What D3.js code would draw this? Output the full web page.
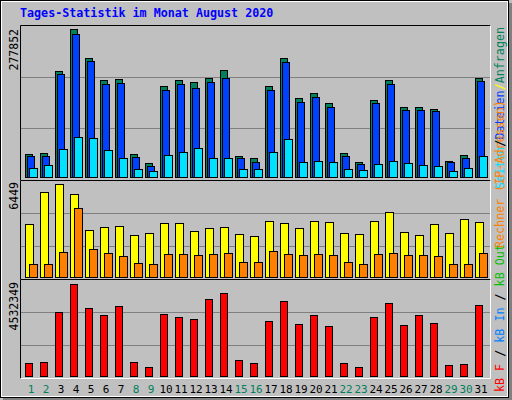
<!DOCTYPE html>
<html><head><meta charset="utf-8">
<script src="https://cdn.jsdelivr.net/npm/d3@7"></script>
<style>body{margin:0;background:#fff}svg{display:block}text{font-family:"DejaVu Sans Mono",monospace}</style>
</head><body>
<script>
const days=d3.range(1,32);
const weekend=[1,2,8,9,15,16,22,23,29,30];
const hits=[43200,45000,199000,277852,223400,182100,184000,43200,26300,170800,182100,178300,185800,200800,39400,35700,170800,223400,148300,157700,138900,45000,28200,144500,182100,131400,131400,127600,30000,41300,185800];
const files=[39400,39400,193300,268400,217700,174600,176400,37500,20600,163300,174600,167100,178300,185800,35700,28200,163300,215900,140800,150200,131400,39400,24400,138900,174600,125800,125800,123900,28200,35700,180200];
const pages=[16900,22500,52600,75100,73200,50700,35700,15000,11300,41300,46900,54400,35700,35700,15000,15000,46900,71300,28200,30000,28200,15000,13100,24400,30000,26300,22500,20600,11300,16900,39400];
const visits=[3655,5890,6449,5750,3236,3446,3515,2887,3027,3725,3725,3166,3376,3446,2957,2817,3865,3725,3376,3865,3795,3027,2957,3865,4493,3096,2887,3655,3027,4004,3795];
const sites=[861,861,1700,4773,1909,1630,1420,931,861,1560,1560,1490,1560,1630,1001,1001,1769,1560,1490,1560,1490,1001,861,1560,1630,1490,1490,1420,861,861,1630];
const kbytes=[612000,661600,3142800,4532349,3341300,2993900,3440500,661600,413500,3043500,2894700,2795400,3787900,4085600,760900,612000,2696200,3688600,2547300,2993900,2448100,612000,413500,2894700,3589400,2497700,2993900,2597000,512800,562400,3490200];
const maxLabels=["277852","6449","4532349"];

const svg=d3.select("body").append("svg").attr("width",512).attr("height",400);
// outer frame
svg.append("rect").attr("x",0).attr("y",0).attr("width",512).attr("height",400).attr("fill","#c0c0c0");
svg.append("rect").attr("x",0.5).attr("y",0.5).attr("width",508).attr("height",397).attr("fill","none").attr("stroke","#000");
svg.append("rect").attr("x",1.5).attr("y",1.5).attr("width",506).attr("height",395).attr("fill","none").attr("stroke","#fff");
svg.append("rect").attr("x",509).attr("y",3).attr("width",3).attr("height",397).attr("fill","#808080");
svg.append("rect").attr("x",3).attr("y",398).attr("width",509).attr("height",2).attr("fill","#808080");
svg.append("text").attr("x",20).attr("y",17).attr("fill","#0000ff").attr("font-weight","bold").attr("font-size","11.7px").text("Tages-Statistik im Monat August 2020");

const x=d3.scaleLinear().domain([1,31]).range([25,475]);
const panels=[{t:25,b:180},{t:180,b:279},{t:279,b:378}];
panels.forEach(p=>{
  const h=p.b-p.t;
  [1,2].forEach(k=>{const yy=Math.round(p.t+h*k/3)+0.5;
    svg.append("line").attr("x1",21).attr("x2",490).attr("y1",yy).attr("y2",yy).attr("stroke","#808080");});
  svg.append("path").attr("d",`M20.5,${p.b+0.5}V${p.t+0.5}H490.5`).attr("stroke","#000").attr("fill","none");
  svg.append("path").attr("d",`M20.5,${p.b+0.5}H490.5V${p.t+0.5}`).attr("stroke","#fff").attr("fill","none");
});
const y1=d3.scaleLinear().domain([0,277852]).range([177,29]);
const y2=d3.scaleLinear().domain([0,6449]).range([276.7,184.3]);
const y3=d3.scaleLinear().domain([0,4532349]).range([375.7,284.3]);
function bars(data,ys,dx,w,col){
  svg.append("g").selectAll("rect").data(data).join("rect")
   .attr("x",(d,i)=>Math.round(x(days[i]))+dx+0.5).attr("width",w)
   .attr("y",d=>Math.round(ys(d))+0.5).attr("height",d=>Math.max(0,Math.round(ys(0))-Math.round(ys(d))))
   .attr("fill",col).attr("stroke","#000");
}
bars(hits,y1,0,7,"#00805c");
bars(files,y1,2,7,"#0040ff");
bars(pages,y1,4,8,"#00e0ff");
bars(visits,y2,0,8,"#ffff00");
bars(sites,y2,4,8,"#ff8000");
bars(kbytes,y3,0,7,"#ff0000");

// max labels
[[29,"277852"],[182,"6449"],[282,"4532349"]].forEach(([yy,t],i)=>{
  svg.append("text").attr("transform",`translate(18,${yy}) rotate(-90)`).attr("text-anchor","end")
   .attr("font-size","11.5px").attr("fill","#000").text(maxLabels[i]);
});
// day labels
svg.append("g").selectAll("text").data(days).join("text")
 .attr("x",d=>x(d)+6).attr("y",393).attr("text-anchor","middle").attr("font-size","11px")
 .attr("fill",d=>weekend.includes(d)?"#00805c":"#000").text(d=>d);

function legend(yy,anchor,parts){
  const t=svg.append("text").attr("transform",`translate(504,${yy}) rotate(-90)`).attr("text-anchor",anchor).attr("font-size","11.7px");
  parts.forEach(([s,c])=>t.append("tspan").attr("fill",c).text(s));
}
legend(27,"end",[["Seiten","#00e0ff"],["/","#000"],["Dateien","#0040ff"],["/","#ffff00"],["Anfragen","#00805c"]]);
legend(248,"start",[["Rechner (IP-Adressen)","#ff8000"]]);
legend(392,"start",[["kB F","#ff0000"],[" / ","#000"],["kB In","#0080ff"],[" / ","#000"],["kB Out","#00c000"]]);
</script>
</body></html>
